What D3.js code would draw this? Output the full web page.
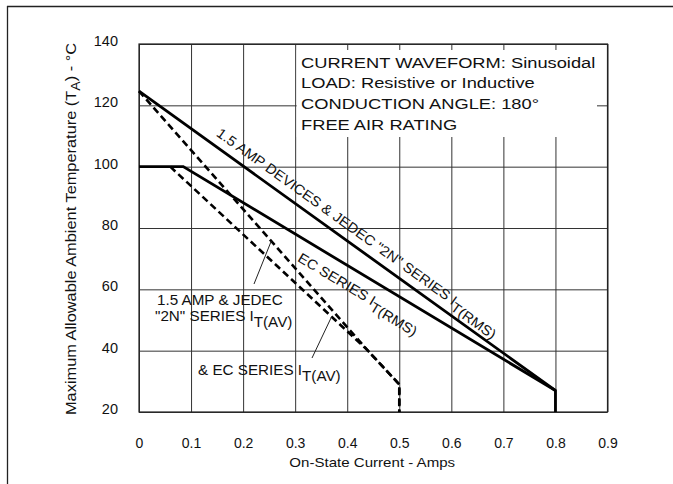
<!DOCTYPE html>
<html><head><meta charset="utf-8">
<script src="https://cdn.jsdelivr.net/npm/d3@7"></script>
<style>
html,body{margin:0;padding:0;background:#fff;}
svg{display:block;font-family:"Liberation Sans",Arial,Helvetica,sans-serif;}
</style></head>
<body>
<svg id="chart" width="673" height="484"></svg>
<script>
// ---- data ----
const xTicks = [0, 0.1, 0.2, 0.3, 0.4, 0.5, 0.6, 0.7, 0.8, 0.9];
const xTickLabels = ["0", "0.1", "0.2", "0.3", "0.4", "0.5", "0.6", "0.7", "0.8", "0.9"];
const yTicks = [20, 40, 60, 80, 100, 120, 140];
const yTickLabels = ["20", "40", "60", "80", "100", "120", "140"];
// solid: 1.5 AMP devices & JEDEC "2N" series I T(RMS)
const rmsStd = [[0, 124.6], [0.8, 27], [0.8, 20]];
// solid: EC series I T(RMS)
const rmsEC = [[0, 100], [0.085, 100], [0.8, 27]];
// dashed: 1.5 AMP & JEDEC "2N" series I T(AV)
const avStd = [[0, 124.6], [0.437, 40.5], [0.5, 29], [0.5, 20]];
// dashed: & EC series I T(AV)
const avEC = [[0.06, 100], [0.437, 40.5], [0.5, 29], [0.5, 20]];
const infoLines = ["CURRENT WAVEFORM: Sinusoidal", "LOAD: Resistive or Inductive", "CONDUCTION ANGLE: 180°", "FREE AIR RATING"];

const svg = d3.select("#chart");
const L = 139, R = 607.5, T = 44, B = 412;
const x = d3.scaleLinear().domain([0, 0.9]).range([L, R]);
const y = d3.scaleLinear().domain([20, 140]).range([B, T]);

// outer frame (top and left only)
svg.append("line").attr("x1", 7).attr("x2", 673).attr("y1", 6.5).attr("y2", 6.5).attr("stroke", "#222").attr("stroke-width", 1.3);
svg.append("line").attr("x1", 7.5).attr("x2", 7.5).attr("y1", 6).attr("y2", 484).attr("stroke", "#222").attr("stroke-width", 1.3);

// grid
const grid = svg.append("g");
grid.append("g").attr("transform", `translate(0,${B})`)
  .call(d3.axisBottom(x).tickValues(xTicks).tickSize(-(B - T)).tickFormat(""))
  .call(g => g.select(".domain").remove())
  .call(g => g.selectAll("line").attr("stroke", "#333").attr("stroke-width", 1));
grid.append("g").attr("transform", `translate(${L},0)`)
  .call(d3.axisLeft(y).tickValues(yTicks).tickSize(-(R - L)).tickFormat(""))
  .call(g => g.select(".domain").remove())
  .call(g => g.selectAll("line").attr("stroke", "#333").attr("stroke-width", 1));

// white box for info text
svg.append("rect").attr("x", x(0.3) + 1.5).attr("y", 50).attr("width", 597 - x(0.3) - 1.5).attr("height", 87).attr("fill", "#fff");

// plot border
svg.append("rect").attr("x", L).attr("y", T).attr("width", R - L).attr("height", B - T)
  .attr("fill", "none").attr("stroke", "#222").attr("stroke-width", 1.2);

// tick labels
svg.append("g").attr("transform", `translate(0,${B + 31})`)
  .call(d3.axisBottom(x).tickValues(xTicks).tickSize(0).tickPadding(0).tickFormat((d, i) => xTickLabels[i]))
  .call(g => g.select(".domain").remove())
  .call(g => g.selectAll("text").attr("font-size", 14).attr("fill", "#111").attr("font-family", "Liberation Sans, Arial, sans-serif").attr("dy", "0.35em"));
svg.append("g").attr("transform", `translate(${L - 21},-3)`)
  .call(d3.axisLeft(y).tickValues(yTicks).tickSize(0).tickPadding(0).tickFormat((d, i) => yTickLabels[i]))
  .call(g => g.select(".domain").remove())
  .call(g => g.selectAll("text").attr("font-size", 14.5).attr("fill", "#111").attr("font-family", "Liberation Sans, Arial, sans-serif"));

// axis titles (glyphs slightly widened like the reference)
svg.append("text").attr("transform", `translate(${(L + R) / 2 - 1},467) scale(1.16,1)`).attr("text-anchor", "middle")
  .attr("font-size", 13).attr("fill", "#111").text("On-State Current - Amps");
const yt = svg.append("text").attr("transform", `translate(76,${(T + B) / 2 + 1}) rotate(-90) scale(1.17,1)`)
  .attr("text-anchor", "middle").attr("font-size", 14).attr("fill", "#111");
yt.append("tspan").text("Maximum Allowable Ambient Temperature (T");
yt.append("tspan").attr("dy", 4).attr("font-size", 12).text("A");
yt.append("tspan").attr("dy", -4).text(") - °C");

// curves
const line = d3.line().x(d => x(d[0])).y(d => y(d[1]));
const curves = svg.append("g").attr("fill", "none").attr("stroke", "#000").attr("stroke-linejoin", "miter");
curves.append("path").datum(rmsStd).attr("d", line).attr("stroke-width", 2.8);
curves.append("path").datum(rmsEC).attr("d", line).attr("stroke-width", 2.8);
curves.append("path").datum(avStd).attr("d", line).attr("stroke-width", 2.6).attr("stroke-dasharray", "7,4");
curves.append("path").datum(avEC).attr("d", line).attr("stroke-width", 2.6).attr("stroke-dasharray", "7,4");

// info text
svg.append("g").selectAll("text").data(infoLines).join("text")
  .attr("transform", (d, i) => `translate(301,${67.5 + i * 20.7}) scale(1.22,1)`)
  .attr("font-size", 15).attr("fill", "#111").text(d => d);

// rotated labels along lines
function angleOf(a, b) {
  return Math.atan2(y(b[1]) - y(a[1]), x(b[0]) - x(a[0])) * 180 / Math.PI;
}
function onLine(a, b, xv) {
  const t = (xv - a[0]) / (b[0] - a[0]);
  return [xv, a[1] + t * (b[1] - a[1])];
}
function rotLabel(a, b, xv, dy, main, sub, fs) {
  const p = onLine(a, b, xv);
  const ang = angleOf(a, b);
  const t = svg.append("text")
    .attr("transform", `translate(${x(p[0])},${y(p[1])}) rotate(${ang}) scale(1.06,1)`)
    .attr("font-size", fs).attr("fill", "#111");
  t.append("tspan").attr("x", 0).attr("y", dy).text(main);
  t.append("tspan").attr("dy", 5).text(sub);
}
rotLabel(rmsStd[0], rmsStd[1], 0.137, -9, "1.5 AMP DEVICES & JEDEC \"2N\" SERIES I", "T(RMS)", 14);
rotLabel(rmsEC[1], rmsEC[2], 0.325, 22, "EC SERIES I", "T(RMS)", 14);

// lower-left labels
function subLabel(xp, yp, main, sub) {
  const t = svg.append("text").attr("transform", `translate(${xp},${yp}) scale(1.05,1)`).attr("font-size", 14.5).attr("fill", "#111");
  t.append("tspan").text(main);
  t.append("tspan").attr("dy", 6).text(sub);
}
svg.append("text").attr("transform", "translate(157,305) scale(1.05,1)").attr("font-size", 14.5).attr("fill", "#111").text("1.5 AMP & JEDEC");
subLabel(155, 320.5, "\"2N\" SERIES I", "T(AV)");
subLabel(198, 375, "& EC SERIES I", "T(AV)");

// leader lines
function leader(x0, y0, curve, xv) {
  const p = onLine(curve[0], curve[1], xv);
  svg.append("line").attr("x1", x0).attr("y1", y0).attr("x2", x(p[0])).attr("y2", y(p[1]))
    .attr("stroke", "#222").attr("stroke-width", 1);
}
leader(254, 284, avStd, 0.254);
leader(312, 358, avEC, 0.37);
</script>
</body></html>
